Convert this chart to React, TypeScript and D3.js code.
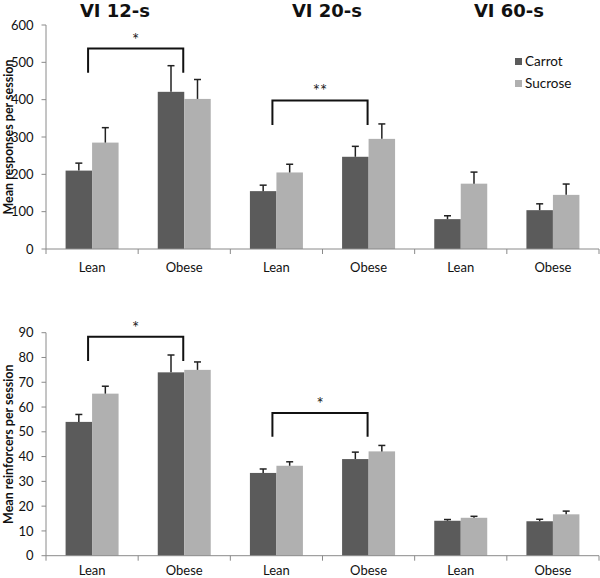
import React from 'react';
import * as d3 from 'd3';

const categories = ['Lean', 'Obese', 'Lean', 'Obese', 'Lean', 'Obese'];
const schedules = ['VI 12-s', 'VI 20-s', 'VI 60-s'];
const seriesNames = ['Carrot', 'Sucrose'];

const responsesCarrot = [210, 421, 155, 247, 80, 104];
const responsesCarrotErr = [20, 70, 16, 28, 9, 17];
const responsesSucrose = [285, 402, 205, 295, 175, 145];
const responsesSucroseErr = [40, 52, 22, 40, 31, 29];

const reinforcersCarrot = [54, 74, 33.4, 39, 14.1, 13.9];
const reinforcersCarrotErr = [3, 7, 1.6, 2.8, 0.5, 0.8];
const reinforcersSucrose = [65.4, 75, 36.3, 42.1, 15.3, 16.7];
const reinforcersSucroseErr = [3, 3.2, 1.6, 2.4, 0.6, 1.3];

const responseTicks = [0, 100, 200, 300, 400, 500, 600];
const reinforcerTicks = [0, 10, 20, 30, 40, 50, 60, 70, 80, 90];

// brackets: [fromCategory, toCategory, lineValue, legValue, label]
const responseBrackets: [number, number, number, number, string][] = [
  [0, 1, 537, 472, '*'],
  [2, 3, 398, 332, '**'],
];
const reinforcerBrackets: [number, number, number, number, string][] = [
  [0, 1, 88.4, 78.6, '*'],
  [2, 3, 57.6, 48, '*'],
];

const COLORS = ['#5b5b5b', '#b0b0b0'];
const AXIS = '#8a8a8a';
const FONT = 'Lato, "Open Sans", sans-serif';
const TITLE_FONT = '"DejaVu Sans", Lato, sans-serif';
const TITLE_X = [115, 327, 509];

const X0 = 46;
const X1 = 599;

const x = d3
  .scaleBand<number>()
  .domain(d3.range(categories.length))
  .range([X0, X1])
  .paddingInner(0.425)
  .paddingOuter(0.2125);
const xs = d3.scaleBand<number>().domain([0, 1]).range([0, x.bandwidth()]);
const step = x.step();

type PanelProps = {
  y: d3.ScaleLinear<number, number>;
  ticks: number[];
  values: number[][];
  errs: number[][];
  brackets: [number, number, number, number, string][];
  label: string;
  labelOffset: number;
};

function Panel({ y, ticks, values, errs, brackets, label, labelOffset }: PanelProps) {
  const [yBottom, yTop] = y.range();
  const boundaries = d3.range(categories.length + 1).map((i) => X0 + i * step);
  return (
    <g>
      {/* bars */}
      {values.map((vals, s) =>
        vals.map((v, i) => (
          <rect
            key={`b${s}-${i}`}
            x={(x(i) as number) + (xs(s) as number)}
            y={y(v)}
            width={xs.bandwidth()}
            height={y(0) - y(v)}
            fill={COLORS[s]}
          />
        ))
      )}
      {/* error bars */}
      {values.map((vals, s) =>
        vals.map((v, i) => {
          const cx = (x(i) as number) + (xs(s) as number) + xs.bandwidth() / 2;
          const top = y(v + errs[s][i]);
          return (
            <g key={`e${s}-${i}`} stroke="#222" strokeWidth={1.5}>
              <line x1={cx} x2={cx} y1={y(v)} y2={top} />
              <line x1={cx - 3.5} x2={cx + 3.5} y1={top} y2={top} />
            </g>
          );
        })
      )}
      {/* y axis */}
      <line x1={X0} x2={X0} y1={yTop} y2={yBottom} stroke={AXIS} strokeWidth={1} />
      {ticks.map((t) => (
        <g key={`t${t}`}>
          <line x1={X0 - 4.5} x2={X0} y1={y(t)} y2={y(t)} stroke={AXIS} />
          <text
            x={33.5}
            y={y(t)}
            dy="0.36em"
            textAnchor="end"
            fontSize={13}
            fontFamily={FONT}
            fill="#111"
          >
            {t}
          </text>
        </g>
      ))}
      {/* x axis */}
      <line x1={X0} x2={X1} y1={yBottom} y2={yBottom} stroke={AXIS} strokeWidth={1} />
      {boundaries.map((bx, i) => (
        <line key={`xb${i}`} x1={bx} x2={bx} y1={yBottom} y2={yBottom + 5} stroke={AXIS} />
      ))}
      {categories.map((c, i) => (
        <text
          key={`xl${i}`}
          x={(x(i) as number) + x.bandwidth() / 2}
          y={yBottom + labelOffset}
          textAnchor="middle"
          fontSize={13}
          fontFamily={FONT}
          fill="#111"
        >
          {c}
        </text>
      ))}
      {/* y label */}
      <text
        transform={`translate(12.5,${(yTop + yBottom) / 2}) rotate(-90)`}
        textAnchor="middle"
        fontSize={12.5}
        fontWeight="bold"
        fontFamily={FONT}
        fill="#111"
      >
        {label}
      </text>
      {/* brackets */}
      {brackets.map(([a, b, lv, legv, lab], k) => {
        const xa = (x(a) as number) + x.bandwidth() / 2 - 4;
        const xb = (x(b) as number) + x.bandwidth() / 2 - 1;
        const ly = y(lv);
        const lg = y(legv);
        return (
          <g key={`br${k}`}>
            <path
              d={`M${xa},${lg}V${ly}H${xb}V${lg}`}
              fill="none"
              stroke="#111"
              strokeWidth={2}
            />
            <text
              x={(xa + xb) / 2}
              y={ly - 3}
              textAnchor="middle"
              fontSize={17}
              fontFamily={FONT}
              fill="#222"
            >
              {lab}
            </text>
          </g>
        );
      })}
    </g>
  );
}

export default function App() {
  const yTopPanel = d3.scaleLinear().domain([0, 600]).range([249, 25]);
  const yBottomPanel = d3.scaleLinear().domain([0, 90]).range([555.7, 332.7]);
  return (
    <svg
      width={600}
      height={578}
      style={{ position: 'absolute', left: 0, top: 0, background: '#fff' }}
    >
      <rect width={600} height={578} fill="#fff" />
      {schedules.map((s, i) => (
        <text
          key={s}
          x={TITLE_X[i]}
          y={17}
          textAnchor="middle"
          fontSize={18}
          fontWeight="bold"
          fontFamily={TITLE_FONT}
          fill="#111"
        >
          {s}
        </text>
      ))}
      <Panel
        y={yTopPanel}
        ticks={responseTicks}
        values={[responsesCarrot, responsesSucrose]}
        errs={[responsesCarrotErr, responsesSucroseErr]}
        brackets={responseBrackets}
        label="Mean responses per session"
        labelOffset={22.5}
      />
      <Panel
        y={yBottomPanel}
        ticks={reinforcerTicks}
        values={[reinforcersCarrot, reinforcersSucrose]}
        errs={[reinforcersCarrotErr, reinforcersSucroseErr]}
        brackets={reinforcerBrackets}
        label="Mean reinforcers per session"
        labelOffset={19}
      />
      {/* legend */}
      {seriesNames.map((n, i) => (
        <g key={n} transform={`translate(515,${58 + i * 22})`}>
          <rect x={0} y={0} width={7} height={7} fill={COLORS[i]} />
          <text x={10} y={3.5} dy="0.36em" fontSize={13.5} fontFamily={FONT} fill="#111">
            {n}
          </text>
        </g>
      ))}
    </svg>
  );
}
